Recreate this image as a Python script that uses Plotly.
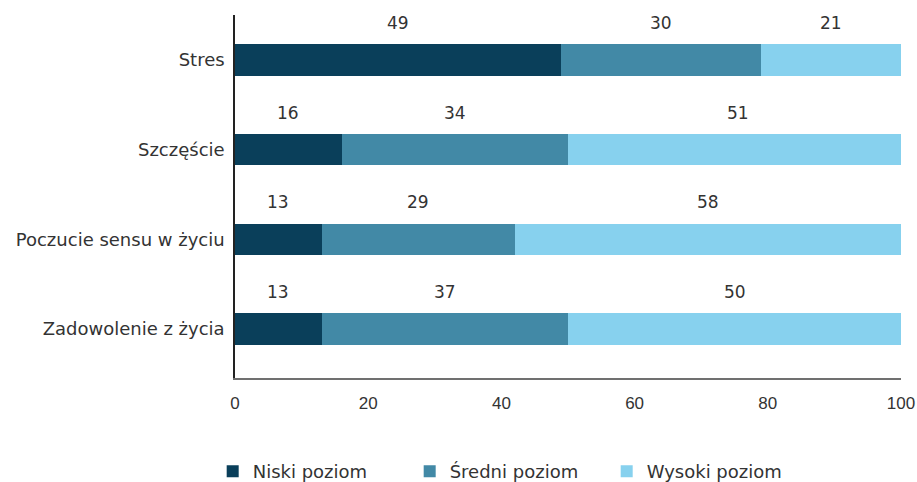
import plotly.graph_objects as go

# Categories (top to bottom) and the share of each level, in percent
categories = ["Stres", "Szczęście", "Poczucie sensu w życiu", "Zadowolenie z życia"]
niski = [49, 16, 13, 13]
sredni = [30, 34, 29, 37]
wysoki = [21, 51, 58, 50]

series_names = ["Niski poziom", "Średni poziom", "Wysoki poziom"]
series_values = [niski, sredni, wysoki]
series_colors = ["#0a3f5a", "#4289a6", "#87d1ee"]

x_ticks = [0, 20, 40, 60, 80, 100]

TEXT = "#333333"
FONT = "DejaVu Sans, Verdana, sans-serif"

fig = go.Figure()
for name, vals, color in zip(series_names, series_values, series_colors):
    fig.add_trace(go.Bar(
        y=categories, x=vals, name=name, orientation="h",
        marker=dict(color=color, line=dict(width=0)),
        hoverinfo="x+y",
    ))

# Value labels centred above each segment
annotations = []
for ci, cat in enumerate(categories):
    start = 0
    for vals in series_values:
        v = vals[ci]
        annotations.append(dict(
            x=start + v / 2, y=cat, xref="x", yref="y",
            text=str(v), showarrow=False, yshift=37,
            font=dict(family=FONT, size=17, color=TEXT),
        ))
        start += v

fig.update_layout(
    barmode="stack",
    bargap=0.65,
    width=917, height=482,
    margin=dict(l=235, r=16, t=15, b=104, autoexpand=False),
    plot_bgcolor="white", paper_bgcolor="white",
    font=dict(family=FONT, size=17, color=TEXT),
    annotations=annotations,
    showlegend=True,
    legend=dict(
        orientation="h", traceorder="normal",
        x=-0.0335, xanchor="left", y=-0.258, yanchor="middle",
        font=dict(family=FONT, size=18, color=TEXT),
        itemwidth=30, tracegroupgap=0,
        entrywidth=152,
    ),
)

fig.update_xaxes(
    range=[0, 100], tickvals=x_ticks, ticktext=[str(t) for t in x_ticks],
    showgrid=False, zeroline=False,
    showline=True, linecolor="#707070", linewidth=2,
    ticks="", ticklabelstandoff=9,
    tickfont=dict(family="Liberation Sans, Arial, sans-serif", size=17, color=TEXT),
)
fig.update_yaxes(
    autorange="reversed", showgrid=False, zeroline=False,
    showline=True, linecolor="#222222", linewidth=1.5,
    ticks="", ticklabelstandoff=5,
    tickfont=dict(family=FONT, size=18, color=TEXT),
)

fig.write_html("out.html")
